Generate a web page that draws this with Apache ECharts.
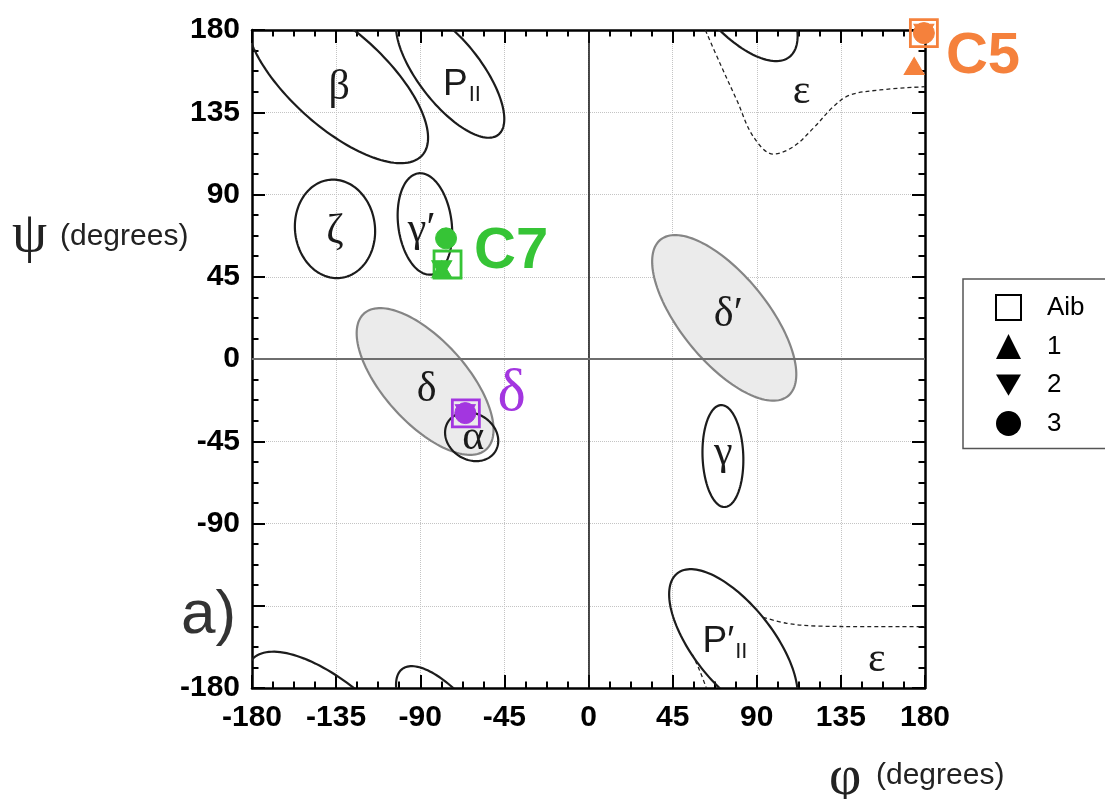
<!DOCTYPE html>
<html>
<head>
<meta charset="utf-8">
<script src="https://cdn.jsdelivr.net/npm/echarts@6/dist/echarts.min.js"></script>
<style>html,body{margin:0;padding:0;background:#fff}#c{width:1105px;height:799px}</style>
</head>
<body>
<div id="c"></div>
<script>
// ---- axis ----
const axisMin = -180, axisMax = 180, tickStep = 45;
const hiddenYTickLabels = [-135];   // replaced by the panel label "a)"

// ---- conformational regions: [phi centre, psi centre, semi-major, semi-minor, tilt deg] ----
const outlineRegions = [
  [-134.5, 153.5, 62, 26, -43],    // beta
  [-74, 156.5, 42.5, 17, -53],     // PII
  [-135.6, 71.2, 27, 21.4, 96],    // zeta
  [-87.5, 73.9, 27.9, 14.3, 97],   // gamma'
  [-62.5, -42.5, 15, 12.5, -35],   // alpha
  [71.9, -53.1, 27.9, 10.9, 92],   // gamma
  [77.5, -156, 49, 21.5, -52.5]    // P'II
];
const shadedRegions = [
  [-87.4, -12.3, 49.5, 22.4, -49], // delta
  [72.6, 22.5, 54.7, 23.4, -51.7]  // delta'
];

// ---- epsilon region boundaries (dashed) ----
const epsBoundaryTop = [[62.5,180],[70.3,161.8],[79.3,141.7],[88.2,121.6],[98.9,112.1],[109.5,116.1],[120.2,126.2],[130.9,138.0],[139.9,144.4],[155.9,147.2],[180,149.0]];
const epsBoundaryBottom = [[93.5,-141.3],[106.0,-144.6],[122.1,-146.1],[148.8,-146.4],[180,-146.4]];
const epsBoundaryInner = [[55.5,-161.5],[59.5,-170.5],[63,-180]];

// ---- region labels: [text, phi, psi] ----
const regionLabels = [
  ['β',-133.3,148.1], ['PII',-67.7,149.9], ['ζ',-135.6,69.6], ['γ′',-89.2,70.6],
  ['δ',-86.6,-17], ['α',-61.6,-43.4], ['δ′',74.8,24.1], ['γ',72.1,-51.6],
  ['P′II',73,-154.6], ['ε',114,146.2], ['ε',154.2,-164.7]
];

// ---- observed conformations ----
const confNames = ['C5', 'C7', 'δ'];
const confColors = ['#f5813c', '#36c436', '#a336e0'];
const confLabelPos = [[211, 165.5], [-41.4, 58.8], [-41.1, -19.5]];
const aibPoints  = [[179.4,178.3], [-75.4,51.7], [-65.6,-29.7]];
const pep1Points = [[174.2,160.3], [-78.5,49.1], null];
const pep2Points = [[179.4,178.5], [-78.5,49.1], [-65.9,-29.6]];
const pep3Points = [[179.4,178.3], [-76.2,66.0], [-65.9,-29.6]];

const legendNames = ['Aib', '1', '2', '3'];
const downTri = 'path://M0,0L20,0L10,17Z';

function wrapped(list) {
  const out = [];
  list.forEach(r => {
    [-360, 0, 360].forEach(dy => out.push([r[0], r[1] + dy, r[2], r[3], r[4]]));
  });
  return out;
}
function ellipseSeries(list, fill, stroke, z) {
  return {
    type: 'custom', z: z, clip: true, silent: true,
    encode: { x: 0, y: 1 },
    data: wrapped(list),
    renderItem: function (params, api) {
      const cx = api.value(0), cy = api.value(1), a = api.value(2), b = api.value(3);
      const t0 = api.value(4) * Math.PI / 180;
      const pts = [];
      for (let k = 0; k < 144; k++) {
        const t = 2 * Math.PI * k / 144;
        const x = cx + a * Math.cos(t) * Math.cos(t0) - b * Math.sin(t) * Math.sin(t0);
        const y = cy + a * Math.cos(t) * Math.sin(t0) + b * Math.sin(t) * Math.cos(t0);
        pts.push(api.coord([x, y]));
      }
      return { type: 'polygon', shape: { points: pts }, style: { fill: fill, stroke: stroke, lineWidth: 2.2 } };
    }
  };
}
function pointData(points) {
  const d = [];
  points.forEach((p, i) => { if (p) d.push({ value: p, itemStyle: { color: confColors[i], borderColor: confColors[i] } }); });
  return d;
}
function dashed(data) {
  return { type: 'line', data: data, smooth: 0.35, symbol: 'none', z: 3, silent: true,
    lineStyle: { color: '#222', width: 1.3, type: [4, 3] } };
}

const axisCommon = {
  type: 'value', min: axisMin, max: axisMax, interval: tickStep,
  axisLine: { show: true, onZero: false, lineStyle: { color: '#000', width: 2.5 } },
  axisTick: { show: true, inside: true, length: 13, lineStyle: { color: '#000', width: 2 } },
  minorTick: { show: true, splitNumber: 4, length: 6.5, lineStyle: { color: '#000', width: 2 } },
  minorSplitLine: { show: false }
};
const sans = 'Liberation Sans, Arial, sans-serif';
const serif = 'Liberation Serif, Times New Roman, serif';
const labelFont = { fontSize: 30, fontWeight: 'bold', fontFamily: sans, color: '#000' };
const gridLine = { show: true, lineStyle: { type: 'dotted', color: '#c4c4c4', width: 1 } };

const greekStyle = { fontSize: 42, fontFamily: serif, color: '#1a1a1a' };
const pRich = {
  p: { fontSize: 37, fontFamily: sans, color: '#1a1a1a' },
  s: { fontSize: 22, fontFamily: sans, color: '#1a1a1a', padding: [20, 0, 0, 1] }
};

const option = {
  animation: false,
  backgroundColor: '#fff',
  grid: { left: 252, top: 30, width: 673, height: 658 },
  xAxis: [
    Object.assign({}, axisCommon, { position: 'bottom', axisLabel: Object.assign({ margin: 15 }, labelFont), splitLine: gridLine }),
    Object.assign({}, axisCommon, { position: 'top', axisLabel: { show: false }, splitLine: { show: false } })
  ],
  yAxis: [
    Object.assign({}, axisCommon, { position: 'left', splitLine: gridLine,
      axisLabel: Object.assign({ margin: 12, formatter: v => hiddenYTickLabels.indexOf(v) >= 0 ? '' : String(v) }, labelFont) }),
    Object.assign({}, axisCommon, { position: 'right', axisLabel: { show: false }, splitLine: { show: false } })
  ],
  legend: {
    orient: 'vertical', left: 963, top: 279, selectedMode: false,
    data: legendNames,
    itemWidth: 25, itemHeight: 25, itemGap: 12.5,
    padding: [15, 24, 12, 32],
    borderColor: '#555', borderWidth: 1.5, backgroundColor: '#fff',
    textStyle: { fontSize: 26, fontFamily: sans, color: '#000', padding: [0, 0, 0, 21] }
  },
  graphic: [
    { type: 'text', x: 12, y: 236, z: 10, style: { text: 'ψ', verticalAlign: 'middle', fill: '#222', fontSize: 56, fontFamily: serif } },
    { type: 'text', x: 60, y: 237, z: 10, style: { text: '(degrees)', verticalAlign: 'middle', fill: '#222', fontSize: 30, fontFamily: sans } },
    { type: 'text', x: 829, y: 779, z: 10, style: { text: 'φ', verticalAlign: 'middle', fill: '#222', fontSize: 56, fontFamily: serif } },
    { type: 'text', x: 876, y: 776, z: 10, style: { text: '(degrees)', verticalAlign: 'middle', fill: '#222', fontSize: 30, fontFamily: sans } },
    { type: 'text', x: 181, y: 616, z: 10, style: { text: 'a)', verticalAlign: 'middle', fill: '#333', fontSize: 62, fontFamily: sans } }
  ],
  series: [
    ellipseSeries(shadedRegions, '#ebebeb', '#858585', 1),
    ellipseSeries(outlineRegions, 'rgba(0,0,0,0)', '#1c1c1c', 3),
    dashed(epsBoundaryTop), dashed(epsBoundaryBottom), dashed(epsBoundaryInner),
    {
      name: 'regions', type: 'scatter', symbolSize: 0, z: 6, silent: true, clip: false,
      itemStyle: { color: 'transparent', opacity: 1 },
      data: regionLabels.map(r => {
        const isP = r[0].indexOf('II') >= 0;
        return {
          name: r[0], value: [r[1], r[2]],
          label: isP ? { formatter: '{p|' + r[0].replace('II', '') + '}{s|II}', rich: pRich } : {}
        };
      }),
      label: Object.assign({ show: true, position: 'inside', formatter: '{b}', opacity: 1 }, greekStyle),
      markLine: {
        silent: true, symbol: ['none', 'none'], z: 2, label: { show: false },
        data: [
          { xAxis: 0, lineStyle: { color: '#111', width: 1.5, type: 'solid', opacity: 1 } },
          { yAxis: 0, lineStyle: { color: '#6e6e6e', width: 2, type: 'solid', opacity: 1 } }
        ]
      }
    },
    {
      name: 'conformations', type: 'scatter', symbolSize: 0, z: 6, silent: true, clip: false,
      itemStyle: { color: 'transparent', opacity: 1 },
      data: confNames.map((n, i) => ({
        name: n, value: confLabelPos[i],
        label: n === 'δ'
          ? { fontSize: 60, fontFamily: serif, fontWeight: 'normal', color: confColors[i] }
          : { color: confColors[i] }
      })),
      label: { show: true, position: 'inside', formatter: '{b}', fontSize: 58, fontWeight: 'bold', opacity: 1,
        fontFamily: 'Liberation Sans Narrow, Arial Narrow, Liberation Sans, sans-serif' }
    },
    { name: '1', type: 'scatter', symbol: 'triangle', symbolSize: [20, 17], z: 4, clip: false,
      itemStyle: { color: '#000', opacity: 1 }, data: pointData(pep1Points) },
    { name: '2', type: 'scatter', symbol: downTri, symbolSize: [20, 17], z: 4, clip: false,
      itemStyle: { color: '#000', opacity: 1 }, data: pointData(pep2Points) },
    { name: '3', type: 'scatter', symbol: 'circle', symbolSize: 21, z: 4, clip: false,
      itemStyle: { color: '#000', opacity: 1 }, data: pointData(pep3Points) },
    { name: 'Aib', type: 'scatter', symbol: 'rect', symbolSize: 27, z: 5, clip: false,
      itemStyle: { color: 'rgba(0,0,0,0)', borderColor: '#000', borderWidth: 2.8, opacity: 1 },
      data: aibPoints.map((p, i) => ({ value: p, itemStyle: { color: 'rgba(0,0,0,0)', borderColor: confColors[i] } })) }
  ]
};
const chart = echarts.init(document.getElementById('c'), null, { renderer: 'canvas' });
chart.setOption(option);
</script>
</body>
</html>
